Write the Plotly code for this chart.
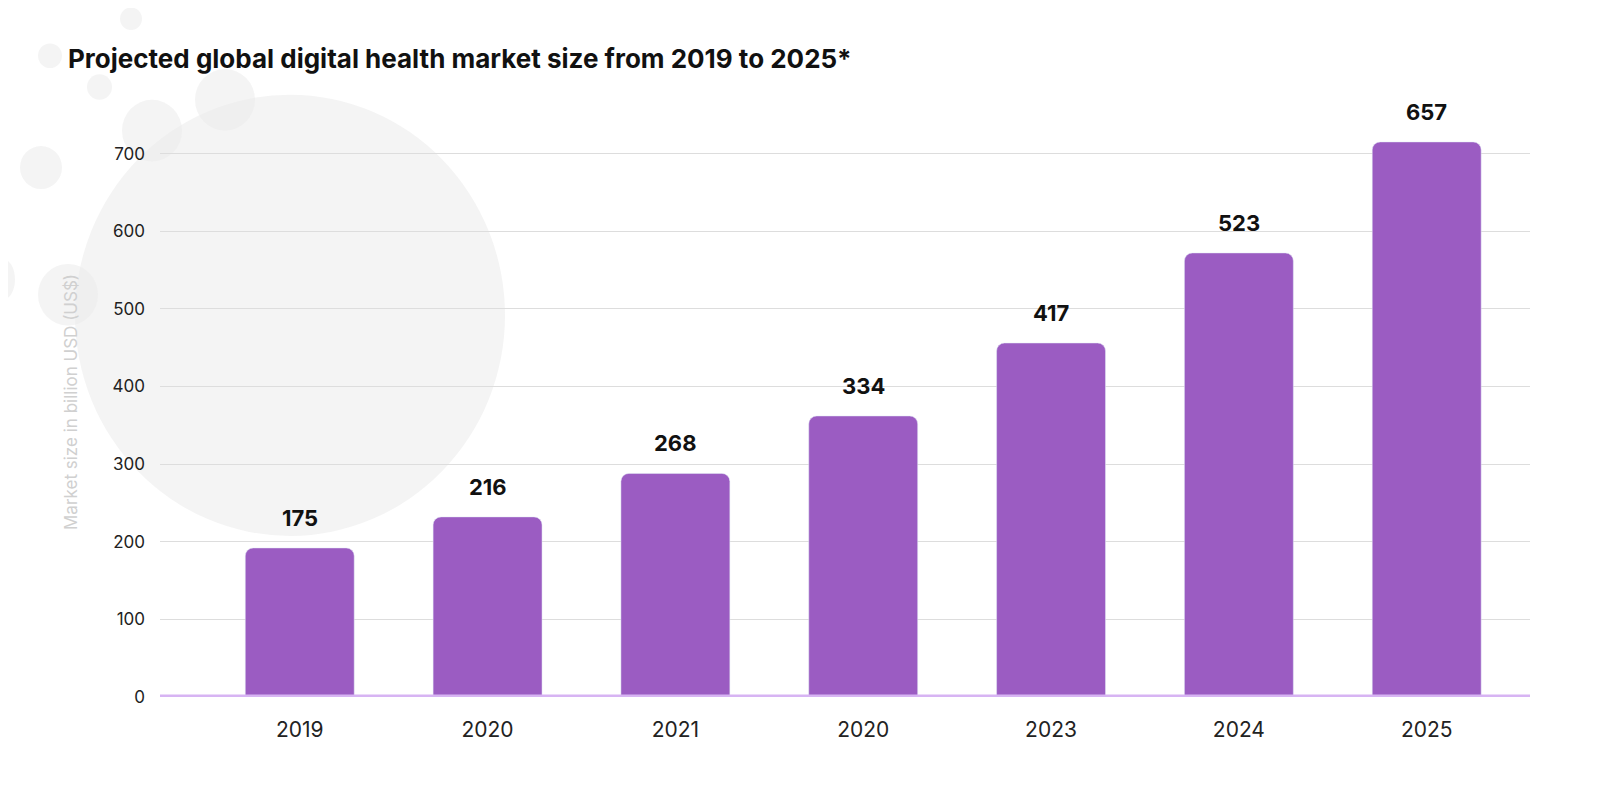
import plotly.graph_objects as go

years = ["2019", "2020", "2021", "2020", "2023", "2024", "2025"]
labels = ["175", "216", "268", "334", "417", "523", "657"]
heights = [192, 232, 288, 362, 456, 572, 715]
positions = list(range(len(years)))

fig = go.Figure()
fig.add_trace(go.Bar(
    x=positions, y=heights, width=0.58,
    marker=dict(color="#9b5cc2", cornerradius=8), hoverinfo="skip",
))

# value labels above bars
for p, h, t in zip(positions, heights, labels):
    fig.add_annotation(x=p, y=h, text="<b>" + t + "</b>", showarrow=False,
                       yshift=30, font=dict(size=22, color="#111"))

# faint watermark in the background (pixel coords of the page, offset by 8)
L, T, PW, PH = 152, 99, 1370, 575
wm = "rgba(235,235,235,0.55)"
for x0, y0, x1, y1 in [(75, 95, 505, 525), (20, 145, 62, 187), (122, 100, 182, 160),
                       (195, 70, 255, 130), (38, 260, 98, 320), (87, 75, 112, 100),
                       (38, 45, 62, 69), (120, 10, 142, 32), (-10, 255, 15, 295)]:
    fig.add_shape(type="circle", xref="paper", yref="paper", layer="below",
                  x0=(x0 - 8 - L) / PW, x1=(x1 - 8 - L) / PW,
                  y0=(T + PH - (y1 - 8)) / PH, y1=(T + PH - (y0 - 8)) / PH,
                  fillcolor=wm, line_width=0)

# baseline
fig.add_shape(type="line", xref="paper", yref="y", x0=0, x1=1, y0=0, y1=0,
              line=dict(color="#d7b4f3", width=5))

fig.update_layout(
    width=1600, height=800,
    paper_bgcolor="white", plot_bgcolor="rgba(0,0,0,0)",
    font=dict(family="Inter", color="#222"),
    margin=dict(l=L, r=78, t=T, b=111),
    showlegend=False,
    title=dict(text="<b>Projected global digital health market size from 2019 to 2025*</b>",
               x=60 / 1600, y=1 - 51 / 800, xanchor="left", yanchor="middle",
               font=dict(size=26, color="#111")),
    xaxis=dict(tickvals=positions, ticktext=years, range=[-0.744, 6.55],
               showgrid=False, zeroline=False, ticks="outside", ticklen=14,
               tickcolor="rgba(0,0,0,0)",
               tickfont=dict(size=21, color="#222")),
    yaxis=dict(range=[0, 760], tickvals=[0, 100, 200, 300, 400, 500, 600, 700],
               gridcolor="#dddddd", gridwidth=1, zeroline=False,
               tickfont=dict(size=17, color="#222"), ticklabelstandoff=14,
               title=dict(text="Market size in billion USD (US$)", standoff=30,
                          font=dict(size=17, color="#d0d0d0"))),
)

fig.write_html("out.html")
